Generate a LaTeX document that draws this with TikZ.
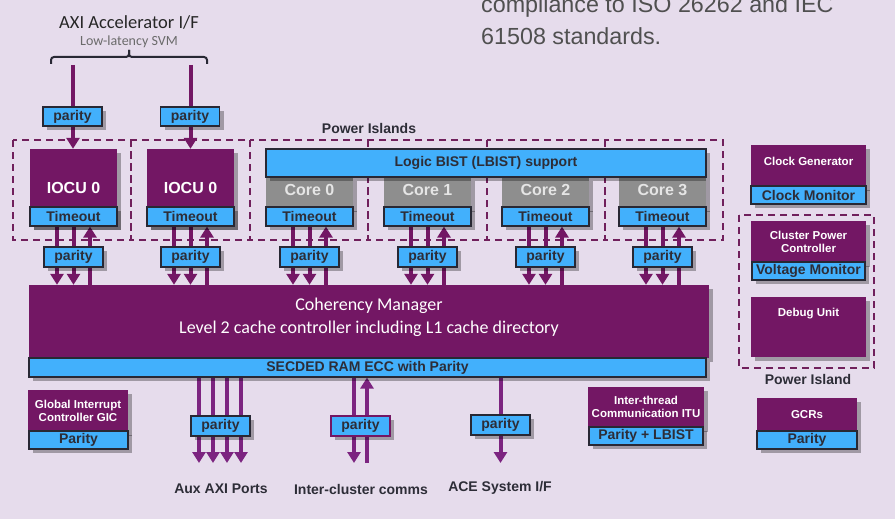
\documentclass[tikz,border=0pt]{standalone}
\usepackage{fontspec}
\setmainfont{Liberation Sans}
\newfontfamily\calfont{Carlito}
\usetikzlibrary{arrows.meta,shadows}
\definecolor{bgc}{RGB}{230,220,236}
\definecolor{pur}{RGB}{115,23,100}
\definecolor{arrc}{RGB}{115,23,100}
\definecolor{arrb}{RGB}{124,36,128}
\definecolor{blu}{RGB}{66,176,252}
\definecolor{gry}{RGB}{142,142,142}
\definecolor{dsh}{RGB}{112,32,92}
\definecolor{edge}{RGB}{40,40,52}
\definecolor{txt}{RGB}{45,45,55}
\definecolor{gtxt}{RGB}{80,80,80}
\pgfdeclarelayer{bg}
\pgfsetlayers{bg,main}
\begin{document}
\begin{tikzpicture}[x=1pt,y=-1pt,
  shd/.style={drop shadow={shadow xshift=4pt,shadow yshift=-4pt,opacity=0.3,fill=black}},
  pbox/.style={fill=pur,inner sep=0,shd,text=white,align=center,font=\bfseries\fontsize{11.5}{13.5}\selectfont},
  bbox/.style={fill=blu,draw=edge,line width=1.2pt,inner sep=0,shd,text=txt,font=\bfseries\fontsize{14}{16}\selectfont},
  gbox/.style={fill=gry,inner sep=0,shd,text=white!90!black,text depth=6pt,font=\bfseries\fontsize{16}{18}\selectfont},
  arr/.style={draw=arrc,line width=4pt,-{Triangle[width=13pt,length=11pt]}},
  arrB/.style={arr,draw=arrb},
  isl/.style={draw=dsh,line width=1.5pt,dash pattern=on 7pt off 5pt},
  lbl/.style={text=txt,inner sep=0,font=\bfseries\fontsize{14}{16}\selectfont},
  wlbl/.style={text=white,inner sep=0,align=center,font=\bfseries\fontsize{11.5}{13.5}\selectfont}
]
\begin{pgfonlayer}{bg}
\fill[bgc] (0,0) rectangle (895,519);
\foreach \a/\b in {13/131,131/250,250/368,368/487,487/605,605/723}
  \draw[isl] (\a,140) rectangle (\b,240);
\draw[isl] (739,215) rectangle (874,368);
\end{pgfonlayer}
\useasboundingbox (0,0) rectangle (895,519);

% top-right text
\node[anchor=base west,inner sep=0,text=gtxt,font=\fontsize{23.3}{30}\selectfont] (std1) at (481,13) {compliance to ISO 26262 and IEC};
\node[anchor=base west,inner sep=0,text=gtxt,font=\fontsize{23.3}{30}\selectfont] (std2) at (481,45) {61508 standards.};

% AXI accelerator title and brace
\node[inner sep=0,text=black!85,font=\calfont\fontsize{18.5}{20}\selectfont] (axi) at (129,22) {AXI Accelerator I/F};
\node[inner sep=0,text=black!58,font=\calfont\fontsize{14}{16}\selectfont] (svm) at (129,42) {Low-latency SVM};
\draw[edge,line width=2pt,rounded corners=3pt] (51,64) -- (51,57) -- (129,57) -- (129,50);
\draw[edge,line width=2pt,rounded corners=3pt] (207,64) -- (207,57) -- (129,57) -- (129,50);
\coordinate (b1) at (73,65);
\coordinate (b2) at (190.5,65);

\node[lbl] (pil) at (369,128) {Power Islands};

% IOCUs
\node[pbox,minimum width=87,minimum height=77,font=\bfseries\fontsize{16}{18}\selectfont] (u1) at (73.5,187.5) {IOCU 0};
\node[pbox,minimum width=87,minimum height=77,font=\bfseries\fontsize{16}{18}\selectfont] (u2) at (190.5,187.5) {IOCU 0};
% cores
\node[gbox,minimum width=87,minimum height=31] (u3) at (309.5,192.5) {Core 0};
\node[gbox,minimum width=87,minimum height=31] (u4) at (427.5,192.5) {Core 1};
\node[gbox,minimum width=87,minimum height=31] (u5) at (545.5,192.5) {Core 2};
\node[gbox,minimum width=87,minimum height=31] (u6) at (662.5,192.5) {Core 3};
\node[bbox,minimum width=440,minimum height=28,font=\bfseries\fontsize{14}{16}\selectfont] (lbist) at (486,163) {Logic BIST (LBIST) support};

\foreach \n/\x in {1/73.5,2/190.5,3/309.5,4/427.5,5/545.5,6/662.5}{
  \node[bbox,minimum width=87,minimum height=19] (t\n) at (\x,216.5) {Timeout};
  \node[bbox,minimum width=59,minimum height=20] (p\n) at (\x,257) {parity};
}

\node[bbox,minimum width=59,minimum height=19] (pt1) at (72.5,116.5) {parity};
\node[bbox,minimum width=59,minimum height=19] (pt2) at (190,116.5) {parity};

% coherency manager
\node[pbox,minimum width=680,minimum height=73] (cm) at (369,321.5) {};
\node[inner sep=0,text=white,align=center,font=\calfont\fontsize{18}{23}\selectfont] (cmt) at (369,317) {Coherency Manager\\Level 2 cache controller including L1 cache directory};
\node[bbox,minimum width=677,minimum height=19] (sec) at (367.5,367.5) {SECDED RAM ECC with Parity};

% GIC
\node[pbox,minimum width=100,minimum height=42] (gic) at (78,411) {Global Interrupt\\Controller GIC};
\node[bbox,minimum width=99,minimum height=18] (gicp) at (78.5,440) {Parity};

% bottom ports
\node[bbox,minimum width=59,minimum height=20] (pa) at (220.5,426) {parity};
\node[bbox,draw=pur,minimum width=59,minimum height=20] (pc) at (360.5,426) {parity};
\node[bbox,minimum width=59,minimum height=20] (pe) at (500.5,425) {parity};
\node[lbl] (laux) at (221,489) {Aux AXI Ports};
\node[lbl] (lic) at (361,489) {Inter-cluster comms};
\node[lbl] (lace) at (500,488) {ACE System I/F};
\coordinate (a1) at (199,463);
\coordinate (a2) at (213,463);
\coordinate (a3) at (227,463);
\coordinate (a4) at (241,463);
\coordinate (c1) at (354,463);
\coordinate (c2) at (367,463);
\coordinate (e1) at (500.5,463);

% ITU
\node[pbox,minimum width=116,minimum height=41] (itu) at (646,407) {Inter-thread\\Communication ITU};
\node[bbox,minimum width=114,minimum height=18] (itup) at (646,436) {Parity + LBIST};

% right column
\node[pbox,minimum width=115,minimum height=42] (clk) at (808.5,166) {};
\node[wlbl] (clkt) at (808.5,161) {Clock Generator};
\node[bbox,minimum width=115,minimum height=18] (clkm) at (808.5,195) {Clock Monitor};
\node[pbox,minimum width=115,minimum height=42] (cpc) at (808.5,242) {Cluster Power\\Controller};
\node[bbox,minimum width=113,minimum height=18] (vm) at (808.5,271) {Voltage Monitor};
\node[pbox,minimum width=115,minimum height=60] (dbg) at (808.5,327) {};
\node[wlbl] (dbgt) at (808.5,314) {Debug Unit};
\node[lbl] (pis) at (808,379) {Power Island};
\node[pbox,minimum width=100,minimum height=33] (gcr) at (807,414.5) {GCRs};
\node[bbox,minimum width=100,minimum height=18] (gcrp) at (807,440) {Parity};

% connectors
\begin{pgfonlayer}{bg}
\draw[arr] (b1) -- (b1 |- u1.north);
\draw[arr] (b2) -- (b2 |- u2.north);
\foreach \n/\x in {1/73.5,2/190.5,3/309.5,4/427.5,5/545.5,6/662.5}{
  \draw[arr] (\x-16.5,0 |- t\n.south) -- (\x-16.5,0 |- cm.north);
  \draw[arr] (\x,0 |- t\n.south) -- (\x,0 |- cm.north);
  \draw[arr] (\x+16.5,0 |- cm.north) -- (\x+16.5,0 |- t\n.south);
}
\foreach \c in {a1,a2,a3,a4}
  \draw[arrB] (\c |- sec.south) -- (\c);
\draw[arrB] (c1 |- sec.south) -- (c1);
\draw[arrB] (c2) -- (c2 |- sec.south);
\draw[arrB] (e1 |- sec.south) -- (e1);
\end{pgfonlayer}
\end{tikzpicture}
\end{document}
